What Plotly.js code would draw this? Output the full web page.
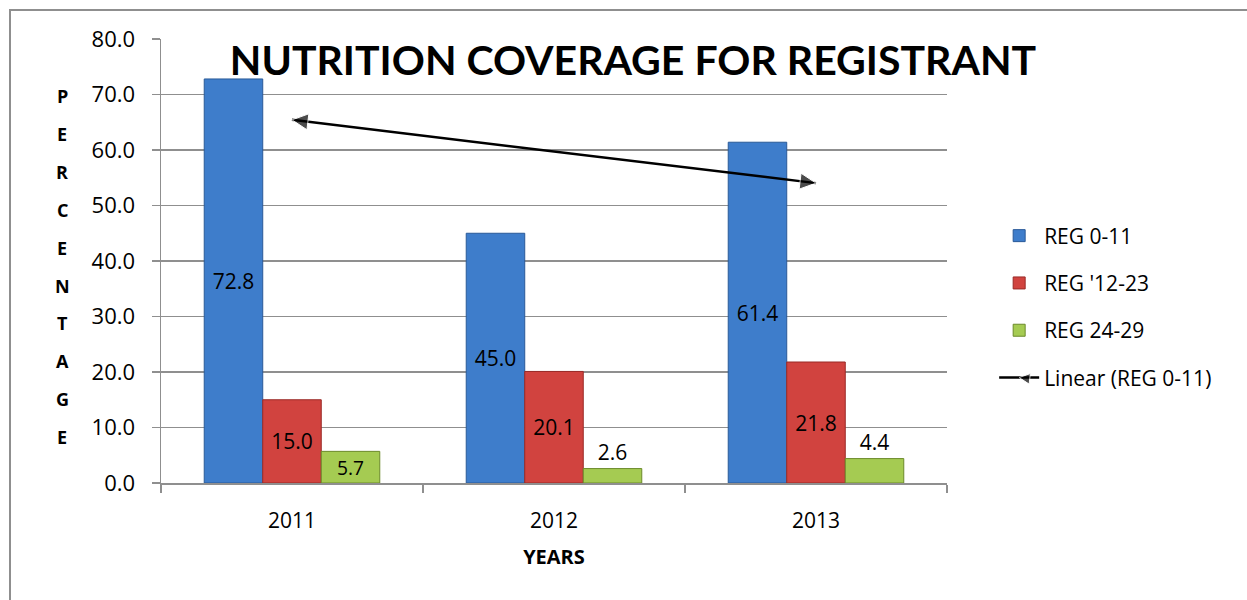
<!DOCTYPE html>
<html>
<head>
<meta charset="utf-8">
<script src="https://cdn.plot.ly/plotly-3.0.1.min.js"></script>
<style>
  html, body { margin: 0; padding: 0; background: #fff; }
  #wrap { position: relative; width: 1247px; height: 600px; }
  #chart { width: 1247px; height: 600px; }
  #frame { position: absolute; left: 9px; top: 9px; right: 0; bottom: 0;
           border-top: 2px solid #8f8f8f; border-left: 2px solid #8f8f8f; pointer-events: none; }
</style>
</head>
<body>
<div id="wrap"><div id="chart"></div><div id="frame"></div></div>
<script>
// ---- data ----
const years = ['2011', '2012', '2013'];
const reg0_11 = [72.8, 45.0, 61.4];
const reg12_23 = [15.0, 20.1, 21.8];
const reg24_29 = [5.7, 2.6, 4.4];
const seriesNames = ['REG 0-11', "REG '12-23", 'REG 24-29'];
const trendName = 'Linear (REG 0-11)';
const yTicks = [0, 10, 20, 30, 40, 50, 60, 70, 80];
const yTitleLetters = 'PERCENTAGE'.split('');

// ---- linear trendline fitted to REG 0-11 ----
const n = reg0_11.length;
const xs = reg0_11.map((_, i) => i + 1);
const mx = xs.reduce((a, b) => a + b, 0) / n;
const my = reg0_11.reduce((a, b) => a + b, 0) / n;
let num = 0, den = 0;
for (let i = 0; i < n; i++) { num += (xs[i] - mx) * (reg0_11[i] - my); den += (xs[i] - mx) ** 2; }
const slope = num / den;
const intercept = my - slope * mx;
const trendY = xs.map(x => intercept + slope * x);

// ---- layout geometry ----
const W = 1247, H = 600;
const M = { l: 161, r: 300, t: 39, b: 117 };
const plotW = W - M.l - M.r, plotH = H - M.t - M.b;
const catW = plotW / years.length;
const yMax = 80;
const angleDeg = Math.atan((-slope) * (plotH / yMax) / catW) * 180 / Math.PI;

const FONT = '"Open Sans", Lato, sans-serif';
const TFONT = 'Lato, "Open Sans", sans-serif';
const labelFmt = v => v.toFixed(1);

function barTrace(name, vals, fill, edge, pos, anchor, group) {
  return {
    type: 'bar', name: name, x: years, y: vals,
    marker: { color: fill, line: { color: edge, width: 1 } },
    text: vals.map(labelFmt), textposition: pos, insidetextanchor: anchor,
    textfont: { family: FONT, size: 21, color: '#000' },
    insidetextfont: { family: FONT, size: 21, color: '#000' },
    outsidetextfont: { family: FONT, size: 21, color: '#000' },
    cliponaxis: false, legendgroup: group, hoverinfo: 'x+y'
  };
}

const traces = [
  barTrace(seriesNames[0], reg0_11, '#3E7DCB', '#2A5A98', 'inside', 'middle', 'a'),
  barTrace(seriesNames[1], reg12_23, '#D1433F', '#9A2A27', 'inside', 'middle', 'b'),
  barTrace(seriesNames[2], reg24_29, '#A5CB52', '#6C8A2B', ['inside', 'outside', 'outside'], 'end', 'c'),
  {
    type: 'scatter', mode: 'lines+markers', name: trendName, x: years, y: trendY,
    line: { color: '#000', width: 2.5 },
    marker: { color: '#000', symbol: ['arrow-left', 'circle', 'arrow-right'], size: [16, 0, 16],
              angle: [angleDeg, 0, angleDeg] },
    legendgroup: 'd', cliponaxis: false, hoverinfo: 'y'
  }
];

const annotations = yTitleLetters.map((ch, i) => ({
  text: '<b>' + ch + '</b>', xref: 'paper', yref: 'paper',
  x: (62 - M.l) / plotW, y: (H - M.b - (96 + i * 37.9)) / plotH,
  xanchor: 'center', yanchor: 'middle', showarrow: false,
  font: { family: FONT, size: 18, color: '#000' }
}));

const layout = {
  width: W, height: H, margin: M,
  paper_bgcolor: '#fff', plot_bgcolor: '#fff',
  font: { family: FONT, size: 21, color: '#000' },
  title: { text: '<b>NUTRITION COVERAGE FOR REGISTRANT</b>', x: 633 / W, xanchor: 'center',
           y: 1 - 61 / H, yanchor: 'middle', yref: 'container', xref: 'container',
           font: { family: TFONT, size: 41, color: '#000' } },
  barmode: 'group', bargap: 0.33, bargroupgap: 0,
  xaxis: {
    type: 'category', showgrid: false, showline: true, linecolor: '#8f8f8f', linewidth: 1.5,
    ticks: 'outside', tickson: 'boundaries', ticklen: 8, tickcolor: '#8f8f8f', tickwidth: 1.5,
    tickfont: { family: FONT, size: 21, color: '#000' }, ticklabelstandoff: 18,
    title: { text: '<b>YEARS</b>', standoff: 17, font: { family: FONT, size: 20, color: '#000' } }
  },
  yaxis: {
    range: [0, yMax], tickvals: yTicks, ticktext: yTicks.map(v => v.toFixed(1)),
    showgrid: true, gridcolor: '#8f8f8f', gridwidth: 1.5,
    showline: true, linecolor: '#8f8f8f', linewidth: 1.5, zeroline: false,
    ticks: 'outside', ticklen: 8, tickcolor: '#8f8f8f', tickwidth: 1.5,
    tickfont: { family: FONT, size: 22, color: '#000' }, ticklabelstandoff: 12
  },
  legend: {
    x: 1.06, xanchor: 'left', y: 0.6025, yanchor: 'top',
    traceorder: 'grouped', tracegroupgap: 17, itemwidth: 40,
    font: { family: FONT, size: 21, color: '#000' }, bgcolor: 'rgba(0,0,0,0)'
  },
  annotations: annotations,
  showlegend: true
};

Plotly.newPlot('chart', traces, layout, { displayModeBar: false, staticPlot: true });
</script>
</body>
</html>
